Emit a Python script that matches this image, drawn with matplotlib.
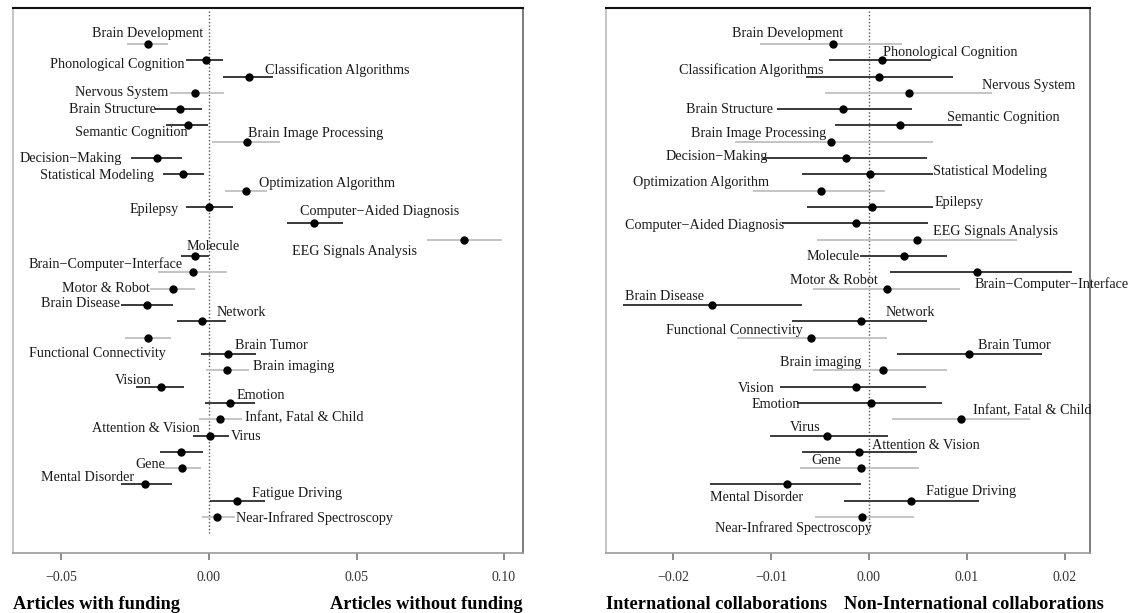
import matplotlib
matplotlib.use("Agg")
import matplotlib.pyplot as plt
import numpy as np

plt.rcParams['font.family'] = ['Liberation Serif', 'DejaVu Serif']

topics = ["Brain Development", "Phonological Cognition", "Classification Algorithms",
          "Nervous System", "Brain Structure", "Semantic Cognition", "Brain Image Processing",
          "Decision\u2212Making", "Statistical Modeling", "Optimization Algorithm", "Epilepsy",
          "Computer\u2212Aided Diagnosis", "EEG Signals Analysis", "Molecule",
          "Brain\u2212Computer\u2212Interface", "Motor & Robot", "Brain Disease", "Network",
          "Functional Connectivity", "Brain Tumor", "Brain imaging", "Vision", "Emotion",
          "Infant, Fatal & Child", "Virus", "Attention & Vision", "Gene", "Mental Disorder",
          "Fatigue Driving", "Near-Infrared Spectroscopy"]

# Panel 1: funding effect
fund_est = [-0.0207, -0.0010, 0.0136, -0.0047, -0.0098, -0.0071, 0.0129, -0.0176, -0.0088, 0.0125,
            0.0000, 0.0356, 0.0864, -0.0047, -0.0054, -0.0122, -0.0210, -0.0024, -0.0207, 0.0064,
            0.0061, -0.0163, 0.0071, 0.0037, 0.0003, -0.0095, -0.0092, -0.0217, 0.0095, 0.0027]
fund_lo = [-0.0278, -0.0078, 0.0047, -0.0132, -0.0183, -0.0146, 0.0010, -0.0264, -0.0156, 0.0054,
           -0.0078, 0.0264, 0.0739, -0.0095, -0.0173, -0.0200, -0.0298, -0.0108, -0.0285, -0.0027,
           -0.0010, -0.0247, -0.0014, -0.0034, -0.0054, -0.0166, -0.0156, -0.0298, 0.0003, -0.0024]
fund_hi = [-0.0139, 0.0047, 0.0217, 0.0051, -0.0024, -0.0003, 0.0241, -0.0092, -0.0017, 0.0197,
           0.0081, 0.0454, 0.0993, 0.0000, 0.0061, -0.0047, -0.0122, 0.0058, -0.0129, 0.0159,
           0.0136, -0.0085, 0.0156, 0.0112, 0.0068, -0.0020, -0.0027, -0.0125, 0.0190, 0.0088]
fund_group = [0, 1, 1, 0, 1, 1, 0, 1, 1, 0, 1, 1, 0, 1, 0, 0, 1, 1, 0, 1,
              0, 1, 1, 0, 1, 1, 0, 1, 1, 0]

# Panel 2: international collaboration effect
intl_est = [-0.00368, 0.00133, 0.00102, 0.00409, -0.00266, 0.00317, -0.00389, -0.00235, 0.00010, -0.00491,
            0.00031, -0.00133, 0.00491, 0.00358, 0.01104, 0.00184, -0.01605, -0.00082, -0.00593, 0.01022,
            0.00143, -0.00133, 0.00020, 0.00941, -0.00429, -0.00102, -0.00082, -0.00838, 0.00429, -0.00072]
intl_lo = [-0.01115, -0.00409, -0.00644, -0.00450, -0.00941, -0.00348, -0.01370, -0.01084, -0.00685, -0.01186,
           -0.00634, -0.00890, -0.00532, -0.00092, 0.00215, -0.00573, -0.02515, -0.00787, -0.01350, 0.00286,
           -0.00573, -0.00910, -0.00736, 0.00235, -0.01012, -0.00685, -0.00706, -0.01626, -0.00256, -0.00552]
intl_hi = [0.00337, 0.00634, 0.00859, 0.01258, 0.00440, 0.00951, 0.00654, 0.00593, 0.00654, 0.00164,
           0.00654, 0.00603, 0.01513, 0.00798, 0.02076, 0.00930, -0.00685, 0.00593, 0.00184, 0.01769,
           0.00798, 0.00583, 0.00746, 0.01646, 0.00194, 0.00491, 0.00511, -0.00082, 0.01125, 0.00460]
intl_group = [0, 1, 1, 0, 1, 1, 0, 1, 1, 0, 1, 1, 0, 1, 1, 0, 1, 1, 0, 1,
              0, 1, 1, 0, 1, 1, 0, 1, 1, 0]

fund_ticks = [-0.05, 0.00, 0.05, 0.10]
intl_ticks = [-0.02, -0.01, 0.00, 0.01, 0.02]

# label layout (left edge in data units, row position)
fund_label_pos = [(-0.0397, 0.39), (-0.0539, 2.29), (0.0190, 2.59), (-0.0454, 4.00), (-0.0475, 5.05),
                  (-0.0454, 6.46), (0.0132, 6.52), (-0.0641, 8.05), (-0.0573, 9.09), (0.0169, 9.58),
                  (-0.0268, 11.12), (0.0308, 11.30), (0.0281, 13.75), (-0.0075, 13.39), (-0.0610, 14.49),
                  (-0.0498, 15.96), (-0.0569, 16.94), (0.0024, 17.49), (-0.0610, 19.95), (0.0088, 19.46),
                  (0.0149, 20.80), (-0.0319, 21.60), (0.0092, 22.52), (0.0122, 23.93), (0.0075, 25.03),
                  (-0.0397, 24.54), (-0.0251, 26.75), (-0.0569, 27.55), (0.0146, 28.53), (0.0092, 30.06)]
intl_label_pos = [(-0.01401, 0.39), (0.00143, 1.55), (-0.01943, 2.59), (0.01155, 3.58), (-0.01871, 4.99),
                  (0.00798, 5.54), (-0.01820, 6.52), (-0.02076, 7.93), (0.00654, 8.79), (-0.02413, 9.52),
                  (0.00675, 10.75), (-0.02495, 12.10), (0.00654, 12.47), (-0.00634, 14.00), (0.01084, 15.71),
                  (-0.00808, 15.47), (-0.02495, 16.51), (0.00174, 17.49), (-0.02076, 18.54), (0.01115, 19.46),
                  (-0.00910, 20.50), (-0.01339, 22.09), (-0.01196, 23.07), (0.01063, 23.50), (-0.00808, 24.48),
                  (0.00031, 25.59), (-0.00593, 26.51), (-0.01626, 28.78), (0.00583, 28.41), (-0.01575, 30.68)]

W, H = 1133, 613
fig = plt.figure(figsize=(W / 100, H / 100), dpi=100)


def panel(rect, est, lo, hi, group, ticks, xlim, label_pos, left_title, right_title, ticklabels,
          right_title_x):
    ax = fig.add_axes(rect)
    rows = np.arange(1, len(est) + 1)
    colors = ['#c4c4c4' if g == 0 else '#3a3a3a' for g in group]
    for r, a, b, c in zip(rows, lo, hi, colors):
        ax.plot([a, b], [r, r], color=c, lw=1.4, solid_capstyle='butt', zorder=2)
    ax.plot(est, rows, 'o', color='black', ms=5, zorder=3)
    ax.plot([0, 0], [-1, 31], color='#555555', lw=1.0, ls=(0, (1, 1.5)), zorder=1)
    for name, (lx, ly) in zip(topics, label_pos):
        ax.text(lx, ly, name, ha='left', va='center', fontsize=10.2, color='#1a1a1a', zorder=4)
    ax.set_xlim(*xlim)
    ax.set_ylim(32.2, -1.2)
    ax.set_yticks([])
    ax.set_xticks(ticks)
    ax.set_xticklabels(ticklabels, fontsize=10, color='#333333')
    ax.tick_params(axis='x', length=5, width=1.2, color='#777777', pad=8)
    ax.spines['top'].set_color('#111111')
    ax.spines['right'].set_color('#666666')
    ax.spines['left'].set_color('#bbbbbb')
    ax.spines['bottom'].set_color('#999999')
    for s in ax.spines.values():
        s.set_linewidth(1.2)
    ax.spines['top'].set_linewidth(1.5)
    ax.text(0.0, -0.094, left_title, transform=ax.transAxes, ha='left', va='center',
            fontsize=13.2, fontweight='bold')
    ax.text(right_title_x, -0.094, right_title, transform=ax.transAxes, ha='right', va='center',
            fontsize=13.2, fontweight='bold')
    return ax


panel([13 / W, 1 - 553 / H, (523 - 13) / W, (553 - 8) / H], fund_est, fund_lo, fund_hi, fund_group,
      fund_ticks, (-0.06644, 0.10644), fund_label_pos, "Articles with funding", "Articles without funding",
      ["\u22120.05", "0.00", "0.05", "0.10"], 1.0)
panel([606 / W, 1 - 553 / H, (1090 - 606) / W, (553 - 8) / H], intl_est, intl_lo, intl_hi, intl_group,
      intl_ticks, (-0.02689, 0.0226), intl_label_pos, "International collaborations",
      "Non-International collaborations",
      ["\u22120.02", "\u22120.01", "0.00", "0.01", "0.02"], 1.029)

fig.savefig("out.png", dpi=100, facecolor='white')
